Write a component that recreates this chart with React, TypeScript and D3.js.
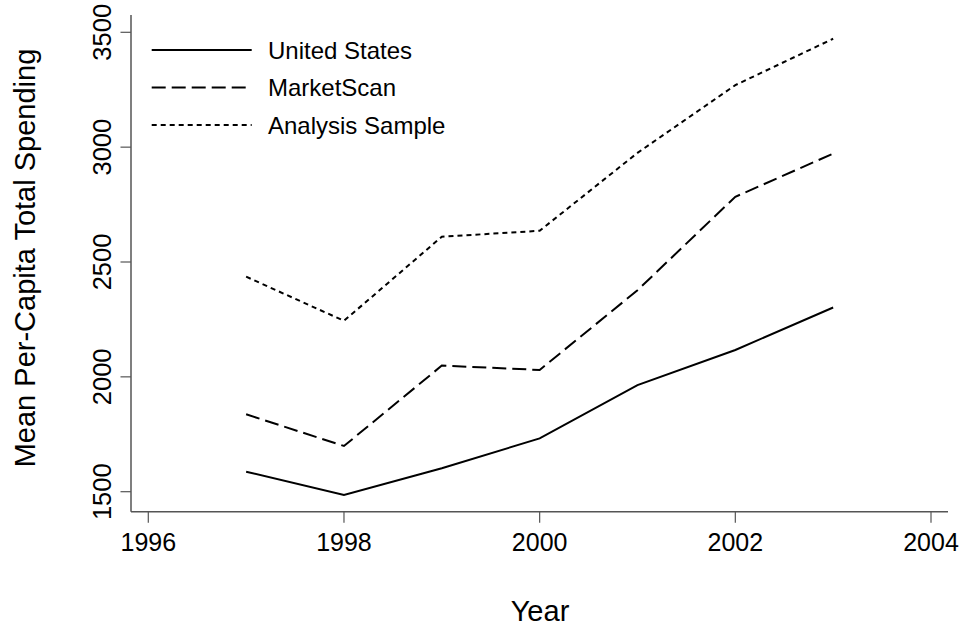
import React from "react";
import * as d3 from "d3";

const years = [1997, 1998, 1999, 2000, 2001, 2002, 2003];
const unitedStates = [1587, 1486, 1602, 1732, 1964, 2117, 2302];
const marketScan = [1837, 1699, 2049, 2030, 2377, 2784, 2972];
const analysisSample = [2436, 2244, 2610, 2636, 2975, 3270, 3472];
const xTicks = [1996, 1998, 2000, 2002, 2004];
const yTicks = [1500, 2000, 2500, 3000, 3500];
const seriesNames = ["United States", "MarketScan", "Analysis Sample"];
const seriesDash = ["", "14,6", "5,4"];

const W = 961;
const H = 628;
const FONT = "'Liberation Sans', Arial, Helvetica, sans-serif";

export default function App() {
  const x = d3.scaleLinear().domain([1996, 2004]).range([148.3, 931]);
  const y = d3.scaleLinear().domain([1500, 3500]).range([491.7, 32.3]);
  const left = 131;
  const bottom = 511.7;
  const top = 15;
  const right = 948;
  const line = d3
    .line<number>()
    .x((_, i) => x(years[i]))
    .y((v) => y(v));
  const allSeries = [unitedStates, marketScan, analysisSample];
  const axisColor = "#555";

  return (
    <svg
      width={W}
      height={H}
      style={{ position: "absolute", left: 0, top: 0, background: "#fff" }}
      fontFamily={FONT}
    >
      <rect x={0} y={0} width={W} height={H} fill="#fff" />
      {/* axes */}
      <line x1={left} x2={left} y1={top} y2={bottom} stroke={axisColor} strokeWidth={1.5} />
      <line x1={left} x2={right} y1={bottom} y2={bottom} stroke={axisColor} strokeWidth={1.5} />
      {xTicks.map((t) => (
        <g key={"xt" + t}>
          <line x1={x(t)} x2={x(t)} y1={bottom} y2={bottom + 11} stroke={axisColor} strokeWidth={1.2} />
          <text x={x(t)} y={550.5} textAnchor="middle" fontSize={25} fill="#000">
            {t}
          </text>
        </g>
      ))}
      {yTicks.map((t) => (
        <g key={"yt" + t}>
          <line x1={left - 10.5} x2={left} y1={y(t)} y2={y(t)} stroke={axisColor} strokeWidth={1.2} />
          <text
            transform={`translate(110.5,${y(t)}) rotate(-90)`}
            textAnchor="middle"
            fontSize={25.5}
            fill="#000"
          >
            {t}
          </text>
        </g>
      ))}
      <text x={540} y={621} textAnchor="middle" fontSize={29} fill="#000">
        Year
      </text>
      <text
        transform={`translate(35,258) rotate(-90)`}
        textAnchor="middle"
        fontSize={29}
        fill="#000"
      >
        Mean Per-Capita Total Spending
      </text>
      {/* series */}
      {allSeries.map((s, i) => (
        <path
          key={"s" + i}
          d={line(s) || ""}
          fill="none"
          stroke="#000"
          strokeWidth={2}
          strokeDasharray={seriesDash[i] || undefined}
        />
      ))}
      {/* legend */}
      {seriesNames.map((n, i) => {
        const ly = 50 + i * 37.5;
        return (
          <g key={"lg" + i}>
            <line
              x1={151.7}
              x2={251.7}
              y1={ly}
              y2={ly}
              stroke="#000"
              strokeWidth={2}
              strokeDasharray={seriesDash[i] || undefined}
            />
            <text x={268} y={ly + 8.5} fontSize={24} fill="#000">
              {n}
            </text>
          </g>
        );
      })}
    </svg>
  );
}
